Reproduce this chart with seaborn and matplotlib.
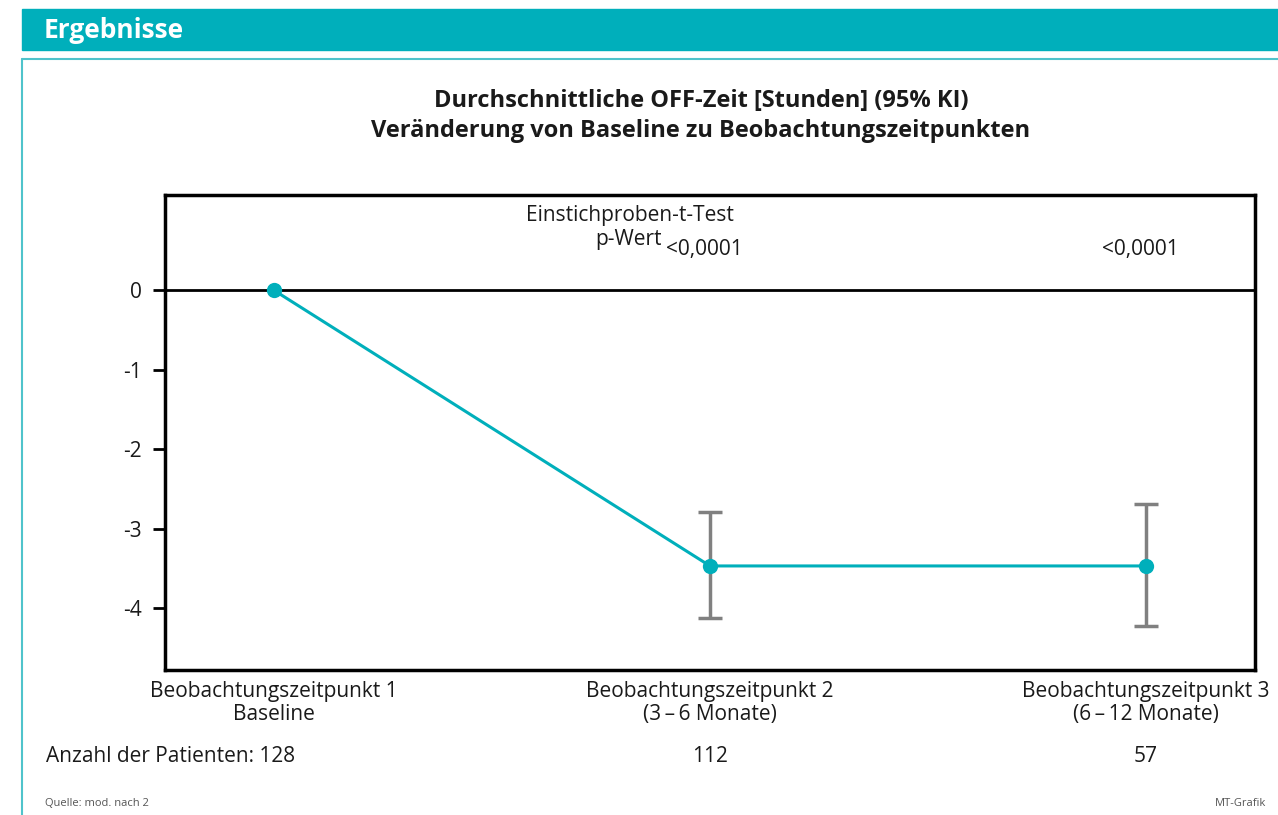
import matplotlib
matplotlib.use("Agg")
import matplotlib.pyplot as plt
import seaborn as sns
import pandas as pd
from matplotlib.patches import Rectangle
from matplotlib.lines import Line2D

# ---- data ----
timepoints = [0, 1, 2]
mean_change = [0.0, -3.47, -3.47]
ci_upper = [0.0, -2.79, -2.69]
ci_lower = [0.0, -4.13, -4.23]
x_labels = ["Beobachtungszeitpunkt 1\nBaseline",
            "Beobachtungszeitpunkt 2\n(3\u2009\u2013\u20096 Monate)",
            "Beobachtungszeitpunkt 3\n(6\u2009\u2013\u200912 Monate)"]
patients = [128, 112, 57]
p_values = [None, "<0,0001", "<0,0001"]
y_ticks = [0, -1, -2, -3, -4]

sns.set_theme(style="white")
plt.rcParams['font.family'] = ['Open Sans', 'DejaVu Sans']

TEAL = "#00AFBB"
TXT = "#1a1a1a"
FS = 15
W, H = 1278, 815
fig = plt.figure(figsize=(W / 100, H / 100), dpi=100)

def fx(px):
    return px / W

def fy(py):
    return 1 - py / H

# header band
fig.patches.append(Rectangle((fx(22), fy(50)), fx(1278 - 22), 41 / H,
                             transform=fig.transFigure, color=TEAL, zorder=0))
fig.text(fx(44), fy(30), "Ergebnisse", color="white", fontsize=19,
         fontweight="bold", va="center", ha="left")
# content box border
fig.lines.append(Line2D([fx(22), fx(1278)], [fy(59), fy(59)],
                        transform=fig.transFigure, color="#4FC3CB", lw=1.5))
fig.lines.append(Line2D([fx(22), fx(22)], [fy(59), 0],
                        transform=fig.transFigure, color="#4FC3CB", lw=1.5))

# title
fig.text(fx(701), fy(101), "Durchschnittliche OFF-Zeit [Stunden] (95% KI)",
         ha="center", va="center", fontsize=17, fontweight="bold", color=TXT)
fig.text(fx(701), fy(131), "Veränderung von Baseline zu Beobachtungszeitpunkten",
         ha="center", va="center", fontsize=17, fontweight="bold", color=TXT)

ax = fig.add_axes([fx(165), fy(670), fx(1255 - 165), (670 - 195) / H])

df = pd.DataFrame({"t": timepoints, "m": mean_change})
yerr_low = [m - lo for m, lo in zip(mean_change, ci_lower)]
yerr_up = [up - m for m, up in zip(mean_change, ci_upper)]
ax.errorbar(timepoints[1:], mean_change[1:],
            yerr=[yerr_low[1:], yerr_up[1:]], fmt="none", ecolor="#808080",
            elinewidth=2.5, capsize=8.5, capthick=2.5, zorder=2)
sns.lineplot(data=df, x="t", y="m", ax=ax, color=TEAL, lw=2.2, marker="o",
             markersize=11, markeredgewidth=0, zorder=3)
ax.axhline(0, color="black", lw=2, zorder=1)

ax.set_xlim(-0.25, 2.25)
ax.set_ylim(-4.78, 1.2)
ax.set_yticks(y_ticks)
ax.set_yticklabels([str(v) for v in y_ticks], fontsize=FS, color=TXT)
ax.set_xticks([])
ax.set_xlabel("")
ax.set_ylabel("")
ax.tick_params(axis="y", left=True, length=9, width=2, pad=8, color="black")
for s in ax.spines.values():
    s.set_color("black")
    s.set_linewidth(2.5)

# annotations
ax.text(0.817, 0.94, "Einstichproben-t-Test", ha="center", va="center",
        fontsize=FS, color=TXT)
ax.text(0.89, 0.64, "p-Wert", ha="right", va="center", fontsize=FS, color=TXT)
for t, p in zip(timepoints, p_values):
    if p:
        ax.text(t - 0.012, 0.52, p, ha="center", va="center", fontsize=FS, color=TXT)

# x labels and patient counts
for t, lab, n in zip(timepoints, x_labels, patients):
    ax.annotate(lab, xy=(t, 0), xycoords=("data", "axes fraction"),
                xytext=(0, -11), textcoords="offset pixels", ha="center", va="top",
                fontsize=FS, color=TXT, linespacing=1.12, annotation_clip=False)
    if t > 0:
        ax.annotate(str(n), xy=(t, 0), xycoords=("data", "axes fraction"),
                    xytext=(0, -87), textcoords="offset pixels", ha="center",
                    va="center", fontsize=FS, color=TXT, annotation_clip=False)
fig.text(fx(46), fy(756), "Anzahl der Patienten: %d" % patients[0], ha="left",
         va="center", fontsize=FS, color=TXT)

fig.text(fx(45), fy(803), "Quelle: mod. nach 2", ha="left", va="center",
         fontsize=8, color="#555555")
fig.text(fx(1266), fy(803), "MT-Grafik", ha="right", va="center",
         fontsize=8, color="#555555")

fig.savefig("out.png", dpi=100)
